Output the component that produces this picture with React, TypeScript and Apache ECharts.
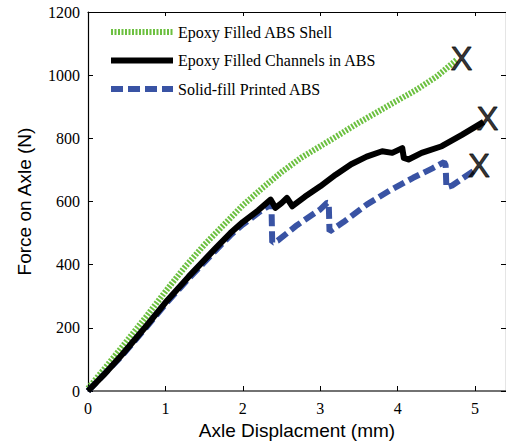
import React, { useEffect, useRef } from "react";
import * as echarts from "echarts";

const xTicks = [0, 1, 2, 3, 4, 5];
const yTicks = [0, 200, 400, 600, 800, 1000, 1200];

const seriesNames = [
  "Epoxy Filled ABS Shell",
  "Epoxy Filled Channels in ABS",
  "Solid-fill Printed ABS",
];

const shellData: [number, number][] = [
  [0, 8], [0.25, 82], [0.5, 158], [0.75, 235], [1.0, 315], [1.25, 392],
  [1.5, 462], [1.75, 525], [2.0, 588], [2.25, 642], [2.5, 693], [2.75, 738],
  [3.0, 775], [3.25, 812], [3.5, 850], [3.75, 885], [4.0, 920], [4.25, 955],
  [4.5, 995], [4.76, 1048],
];

const channelsData: [number, number][] = [
  [0, 0], [0.2, 50], [0.45, 118], [0.75, 205], [1.0, 280], [1.3, 362],
  [1.64, 450], [1.84, 500], [2.0, 535], [2.2, 572], [2.36, 606], [2.42, 580],
  [2.5, 595], [2.57, 611], [2.64, 585], [2.8, 615], [3.0, 648], [3.2, 685],
  [3.4, 718], [3.6, 742], [3.8, 759], [3.93, 754], [4.06, 769], [4.08, 738],
  [4.14, 733], [4.31, 754], [4.57, 775], [4.83, 811], [5.11, 852],
];

const solidData: [number, number][] = [
  [0, 0], [0.45, 115], [0.75, 201], [1.0, 275], [1.3, 356], [1.64, 443],
  [1.84, 493], [2.0, 527], [2.2, 564], [2.3, 581], [2.37, 590], [2.38, 470],
  [2.45, 476], [2.7, 525], [3.0, 575], [3.09, 596], [3.11, 595], [3.12, 505],
  [3.3, 535], [3.6, 590], [3.9, 635], [4.2, 675], [4.45, 705], [4.6, 725],
  [4.62, 715], [4.63, 645], [4.7, 650], [4.85, 675], [5.0, 700],
];

const endMarker = "X";

const GREEN = "#6CC040";
const BLACK = "#000000";
const BLUE = "#3953A4";

const serif = "Liberation Serif";
const sans = "Liberation Sans";

export default function App() {
  const ref = useRef<HTMLDivElement>(null);

  useEffect(() => {
    document.body.style.margin = "0";
    document.body.style.overflow = "hidden";
    const chart = echarts.init(ref.current!, undefined, { renderer: "svg" });

    const last = (d: [number, number][]) => d[d.length - 1];
    const hiddenSymbol = { color: "rgba(0,0,0,0)", borderColor: "rgba(0,0,0,0)", borderWidth: 0, opacity: 0 };
    const tickRich = { t: { fontFamily: serif, fontSize: 16, color: "#000" } };

    const option: any = {
      animation: false,
      backgroundColor: "#ffffff",
      textStyle: { fontFamily: serif },
      grid: { left: 88, top: 12, width: 419.6, height: 380 },
      legend: {
        orient: "vertical",
        left: 108,
        top: 24,
        padding: 0,
        itemWidth: 62,
        itemHeight: 14,
        itemGap: 12.5,
        textStyle: { fontFamily: serif, fontSize: 16, color: "#000" },
        data: [
          { name: seriesNames[0], itemStyle: hiddenSymbol, lineStyle: { width: 6, type: [2, 1.5], color: GREEN } },
          { name: seriesNames[1], itemStyle: hiddenSymbol, lineStyle: { width: 6, type: "solid", color: BLACK } },
          { name: seriesNames[2], itemStyle: hiddenSymbol, lineStyle: { width: 6, type: [12, 5], color: BLUE } },
        ],
      },
      xAxis: [
        {
          type: "value",
          min: 0,
          max: 5.4,
          interval: 1,
          name: "Axle Displacment (mm)",
          nameLocation: "middle",
          nameGap: 30,
          nameTextStyle: { fontFamily: sans, fontSize: 19, color: "#000" },
          axisLine: { show: true, onZero: false, lineStyle: { color: "#444", width: 1.5 } },
          axisTick: { show: true, inside: true, length: 5, lineStyle: { color: "#000" } },
          axisLabel: {
            fontFamily: serif,
            fontSize: 16,
            color: "#000",
            margin: 9,
            showMaxLabel: false,
            rich: tickRich,
            formatter: (v: number) => (xTicks.includes(v) ? `{t|${v}}` : ""),
          },
          splitLine: { show: false },
        },
        {
          type: "value",
          position: "top",
          min: 0,
          max: 5.4,
          interval: 1,
          axisLine: { show: true, onZero: false, lineStyle: { color: "#000", width: 1.2 } },
          axisTick: { show: true, inside: true, length: 4, lineStyle: { color: "#000" } },
          axisLabel: { show: false },
          splitLine: { show: false },
        },
      ],
      yAxis: [
        {
          type: "value",
          min: 0,
          max: 1200,
          interval: 200,
          name: "Force on Axle (N)",
          nameLocation: "middle",
          nameGap: 54,
          nameTextStyle: { fontFamily: sans, fontSize: 19, color: "#000" },
          axisLine: { show: true, onZero: false, lineStyle: { color: "#000", width: 1.2 } },
          axisTick: { show: true, inside: true, length: 5, lineStyle: { color: "#000" } },
          axisLabel: {
            fontFamily: serif,
            fontSize: 16,
            color: "#000",
            margin: 8,
            rich: tickRich,
            formatter: (v: number) => (yTicks.includes(v) ? `{t|${v}}` : ""),
          },
          splitLine: { show: false },
        },
        {
          type: "value",
          position: "right",
          min: 0,
          max: 1200,
          interval: 200,
          axisLine: { show: true, onZero: false, lineStyle: { color: "#000", width: 1.2 } },
          axisTick: { show: true, inside: true, length: 5, lineStyle: { color: "#000" } },
          axisLabel: { show: false },
          splitLine: { show: false },
        },
      ],
      series: [
        {
          name: seriesNames[0],
          type: "line",
          data: shellData,
          symbol: "none",
          z: 2,
          lineStyle: { color: GREEN, width: 6, type: [2, 1.5] },
          itemStyle: { color: GREEN },
        },
        {
          name: seriesNames[2],
          type: "line",
          data: solidData,
          symbol: "none",
          z: 3,
          lineStyle: { color: BLUE, width: 6, type: [12, 5] },
          itemStyle: { color: BLUE },
        },
        {
          name: seriesNames[1],
          type: "line",
          data: channelsData,
          symbol: "none",
          z: 4,
          lineStyle: { color: BLACK, width: 6, join: "round" },
          itemStyle: { color: BLACK },
        },
        {
          name: "ends",
          type: "scatter",
          z: 5,
          symbolSize: 0.1,
          itemStyle: { color: "#000" },
          silent: true,
          label: {
            show: true,
            position: "inside",
            formatter: endMarker,
            fontFamily: sans,
            fontSize: 33,
            color: "#000",
            textBorderColor: "#000",
            textBorderWidth: 0.8,
          },
          data: [
            { value: last(shellData), label: { offset: [5, -2] } },
            { value: last(channelsData), label: { offset: [4, -3] } },
            { value: last(solidData), label: { offset: [4, -4] } },
          ],
        },
      ],
    };

    chart.setOption(option);
    return () => chart.dispose();
  }, []);

  return (
    <div
      ref={ref}
      style={{ position: "fixed", left: 0, top: 0, width: 506, height: 445, background: "#fff" }}
    />
  );
}
